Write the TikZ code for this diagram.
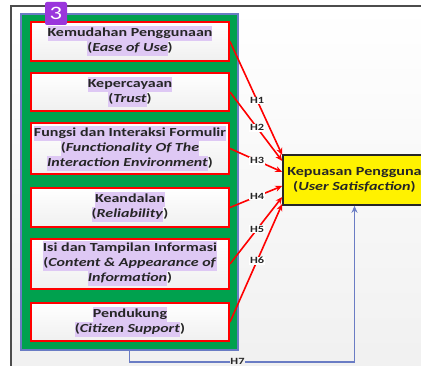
\documentclass[tikz,border=0pt]{standalone}
\usepackage{fontspec}
\newfontfamily\calfont[FakeStretch=1.3]{Carlito}
\usetikzlibrary{arrows.meta}

\definecolor{panelgreen}{HTML}{00A14E}
\definecolor{panelblue}{HTML}{6A7CC4}
\definecolor{hilite}{HTML}{DEC8F4}
\definecolor{badgepurple}{HTML}{9A36DC}
\definecolor{bggray}{HTML}{F0F0F0}
\definecolor{txt}{HTML}{262626}
\newcommand{\hlt}[1]{{\setlength{\fboxsep}{0pt}\colorbox{hilite}{\strut #1}}}

\tikzset{
  factor/.style={draw=red, line width=2pt, top color=white, bottom color=gray!12,
    minimum width=198pt, inner sep=1pt, align=center, text=txt,
    font=\calfont\bfseries\fontsize{12.3}{15}\selectfont},
  outcome/.style={draw=black!85, line width=1.6pt, fill=yellow, minimum width=143pt,
    minimum height=50pt, align=center, text=txt,
    font=\calfont\bfseries\fontsize{12.4}{15}\selectfont},
  panel/.style={draw=panelblue, line width=1.6pt, fill=panelgreen, minimum width=217pt,
    minimum height=336pt},
  badge/.style={fill=badgepurple, rounded corners=2pt, minimum width=22pt,
    minimum height=23pt, inner sep=0pt, text=white, font=\calfont\fontsize{19}{19}\selectfont},
  hyp/.style={draw=red, line width=1.6pt, -{Stealth[length=7pt,width=6pt]}},
  h7line/.style={draw=panelblue, line width=1.5pt, -{Stealth[length=7pt,width=6pt]}},
  hlabel/.style={fill=white, inner sep=0.8pt, text=txt,
    font=\calfont\bfseries\fontsize{9.5}{10}\selectfont},
}

\begin{document}
\begin{tikzpicture}[x=1pt, y=-1pt]
  \useasboundingbox (0,0) rectangle (421,366);
  \clip (0,0) rectangle (421,366);
  \fill[white] (0,0) rectangle (421,366);
  % frame of the slide
  \draw[draw=black!70, line width=1.8pt, top color=white, bottom color=bggray]
    (11,6) rectangle (440,380);

  \node[panel] (panel) at (129.5,182) {};

  \node[factor, minimum height=39pt] (ease) at (130,41.5)
    {\hlt{Kemudahan Penggunaan}\\\hlt{(\textit{Ease of Use}})};
  \node[factor, minimum height=38pt] (trust) at (130,92)
    {\hlt{Kepercayaan}\\\hlt{(\textit{Trust}})};
  \node[factor, minimum height=51pt] (func) at (130,148.5)
    {\hlt{Fungsi dan Interaksi Formulir}\\\hlt{(\textit{Functionality Of The}}\\
     \hlt{\textit{Interaction Environment}})};
  \node[factor, minimum height=39pt] (reli) at (130,207.5)
    {\hlt{Keandalan}\\\hlt{(\textit{Reliability}})};
  \node[factor, minimum height=50pt] (content) at (130,264)
    {\hlt{Isi dan Tampilan Informasi}\\\hlt{(\textit{Content \& Appearance of}}\\
     \hlt{\textit{Information}})};
  \node[factor, minimum height=38pt] (support) at (130,322)
    {\hlt{Pendukung}\\\hlt{(\textit{Citizen Support}})};

  \node[badge] (num) at (56,13.5) {3};

  \node[outcome] (us) at (354.5,180) {Kepuasan Pengguna\\(\textit{User Satisfaction})};

  % hypotheses
  \draw[hyp] (ease.east) -- node[hlabel, pos=0.52] {H1} ([yshift=25pt]us.west);
  \draw[hyp] (trust.east) -- node[hlabel, pos=0.52] {H2} ([yshift=19pt]us.west);
  \draw[hyp] (func.east) -- node[hlabel, pos=0.52] {H3} ([yshift=8pt]us.west);
  \draw[hyp] (reli.east) -- node[hlabel, pos=0.52] {H4} ([yshift=-6pt]us.west);
  \draw[hyp] (content.east) -- node[hlabel, pos=0.52] {H5} ([yshift=-17pt]us.west);
  \draw[hyp] (support.east) -- node[hlabel, pos=0.52] {H6} ([yshift=-24pt]us.west);
  \draw[h7line] (panel.south) -- ([yshift=-11pt]panel.south)
    -| node[hlabel, fill=bggray, pos=0.24] {H7} (us.south);
\end{tikzpicture}
\end{document}
